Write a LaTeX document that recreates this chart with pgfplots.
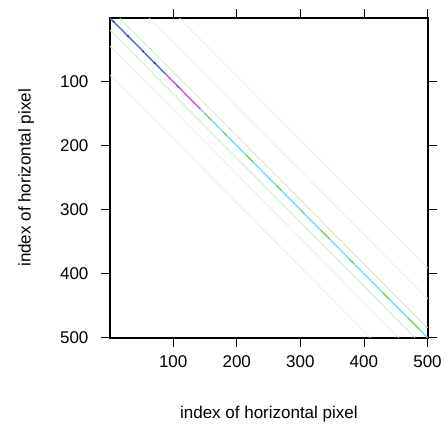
\documentclass[border=0pt]{standalone}
\usepackage{fontspec}
\setmainfont{Liberation Sans}
\usepackage{pgfplots}
\pgfplotsset{compat=1.18}
\definecolor{offg}{RGB}{205,240,205}
\definecolor{offg2}{RGB}{228,247,228}
\definecolor{dblue}{RGB}{70,110,205}
\definecolor{navy}{RGB}{25,40,120}
\definecolor{mag}{RGB}{205,80,210}
\definecolor{cyn}{RGB}{120,220,235}
\definecolor{grn}{RGB}{140,210,90}
\begin{document}
\begin{tikzpicture}
\begin{axis}[
  scale only axis, width=318pt, height=320pt,
  xmin=0.5, xmax=500.5, ymin=0.5, ymax=500.5,
  y dir=reverse,
  axis line style={line width=1.6pt},
  xtick={100,200,300,400,500}, ytick={100,200,300,400,500},
  tick align=outside, major tick length=9pt,
  tick style={line width=0.8pt, black},
  xtick pos=both, ytick pos=both,
  xticklabel pos=lower, yticklabel pos=left,
  /pgf/number format/assume math mode=true,
  ticklabel style={font=\fontsize{17}{20}\selectfont},
  xticklabel style={yshift=-5pt},
  yticklabel style={xshift=-9pt},
  label style={font=\fontsize{17}{20}\selectfont},
  xlabel={index of horizontal pixel},
  ylabel={index of horizontal pixel},
  xlabel style={yshift=-32pt},
  ylabel style={yshift=19pt},
  clip=true,
]
% faint off-diagonals
\addplot[draw=offg, line width=1pt] coordinates {(16,1) (500,485)};
\addplot[draw=offg2, line width=1pt] coordinates {(62,1) (500,439)};
\addplot[draw=offg2, line width=1pt] coordinates {(110,1) (500,391)};
\addplot[draw=offg, line width=1pt] coordinates {(1,20) (480,500)};
\addplot[draw=offg2, line width=1pt] coordinates {(1,45) (455,500)};
\addplot[draw=offg2, line width=1pt] coordinates {(1,90) (410,500)};
% main diagonal
\addplot[draw=dblue, line width=1.4pt] coordinates {(1,1) (88,88)};
\addplot[draw=mag, line width=1.4pt] coordinates {(88,88) (143,143)};
\addplot[draw=cyn, line width=1.4pt] coordinates {(143,143) (500,500)};
\addplot[draw=navy, line width=1.4pt] coordinates {(5,5) (7,7)};
\addplot[draw=navy, line width=1.4pt] coordinates {(28,28) (30,30)};
\addplot[draw=navy, line width=1.4pt] coordinates {(52,52) (54,54)};
\addplot[draw=navy, line width=1.4pt] coordinates {(70,70) (72,72)};
\addplot[draw=dblue, line width=1.4pt] coordinates {(105,105) (110,110)};
\addplot[draw=grn, line width=1.4pt] coordinates {(150,150) (160,160)};
\addplot[draw=grn, line width=1.4pt] coordinates {(178,178) (184,184)};
\addplot[draw=grn, line width=1.4pt] coordinates {(215,215) (225,225)};
\addplot[draw=grn, line width=1.4pt] coordinates {(262,262) (270,270)};
\addplot[draw=grn, line width=1.4pt] coordinates {(300,300) (306,306)};
\addplot[draw=grn, line width=1.4pt] coordinates {(332,332) (346,346)};
\addplot[draw=grn, line width=1.4pt] coordinates {(378,378) (384,384)};
\addplot[draw=grn, line width=1.4pt] coordinates {(430,430) (440,440)};
\addplot[draw=grn, line width=1.4pt] coordinates {(470,470) (488,488)};
\end{axis}
\path ([shift={(-110pt,-87pt)}]current axis.south west) rectangle ([shift={(16pt,18pt)}]current axis.north east);
\end{tikzpicture}
\end{document}
